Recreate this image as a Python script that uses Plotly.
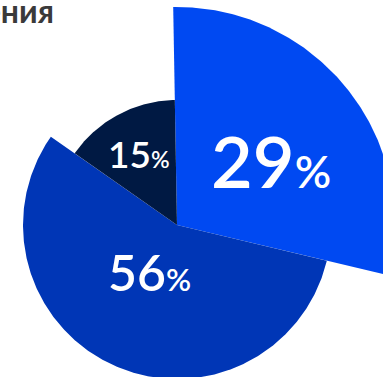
import math
import plotly.graph_objects as go

# ---- data ----
categories = ["Категория A", "Категория B", "Категория C"]
values = [29, 56, 15]
value_labels = ["29", "56", "15"]
title_text = "Структура потребления"

# ---- styles ----
colors = ["#0049F2", "#0036B6", "#001943"]
radii_px = [218, 154, 125]          # visual radius of each sector (px)
label_r_frac = [0.50, 0.39, 0.61]   # label distance as fraction of sector radius
label_shift = [8.5, 3, -2]          # angular nudge of label (deg)
digit_sizes = [72, 50, 37]
pct_sizes = [45, 31, 23]
start_angle = -1.0

W, H = 383, 377
CX, CY = 177, 225   # centre in px from top-left

total = sum(values)
spans = [v / total * 360 for v in values]

fig = go.Figure()
acc = start_angle
mids = []
for i, (span, r) in enumerate(zip(spans, radii_px)):
    a0, a1 = acc, acc + span
    n = max(int(span * 2), 2)
    angs = [a0 + (a1 - a0) * k / n for k in range(n + 1)]
    xs = [0] + [r * math.sin(math.radians(a)) for a in angs] + [0]
    ys = [0] + [r * math.cos(math.radians(a)) for a in angs] + [0]
    fig.add_trace(go.Scatter(
        x=xs, y=ys, mode="lines", fill="toself", fillcolor=colors[i],
        line=dict(width=0, color=colors[i]), hoverinfo="skip", showlegend=False,
    ))
    mids.append((a0 + a1) / 2)
    acc = a1

for i in range(len(values)):
    a = math.radians(mids[i] + label_shift[i])
    rr = radii_px[i] * label_r_frac[i]
    txt = f"{value_labels[i]}<span style='font-size:{pct_sizes[i]}px'>%</span>"
    fig.add_trace(go.Scatter(
        x=[rr * math.sin(a)], y=[rr * math.cos(a)], mode="text", text=[txt],
        textfont=dict(family="Lato", size=digit_sizes[i], color="white", weight=600),
        textposition="middle center", cliponaxis=False,
        hoverinfo="skip", showlegend=False,
    ))

fig.update_layout(
    width=W, height=H,
    margin=dict(l=0, r=0, t=0, b=0),
    paper_bgcolor="white",
    plot_bgcolor="white",
    xaxis=dict(visible=False, range=[-CX, W - CX], fixedrange=True),
    yaxis=dict(visible=False, range=[-(H - CY), CY], fixedrange=True),
    annotations=[dict(
        text=f"<b>{title_text}</b>", xref="paper", yref="paper",
        x=56 / W, y=1 + 11 / H, xanchor="right", yanchor="top", showarrow=False,
        font=dict(family="Lato", size=32, color="#3A3A3A"),
    )],
)

fig.write_html("out.html")
